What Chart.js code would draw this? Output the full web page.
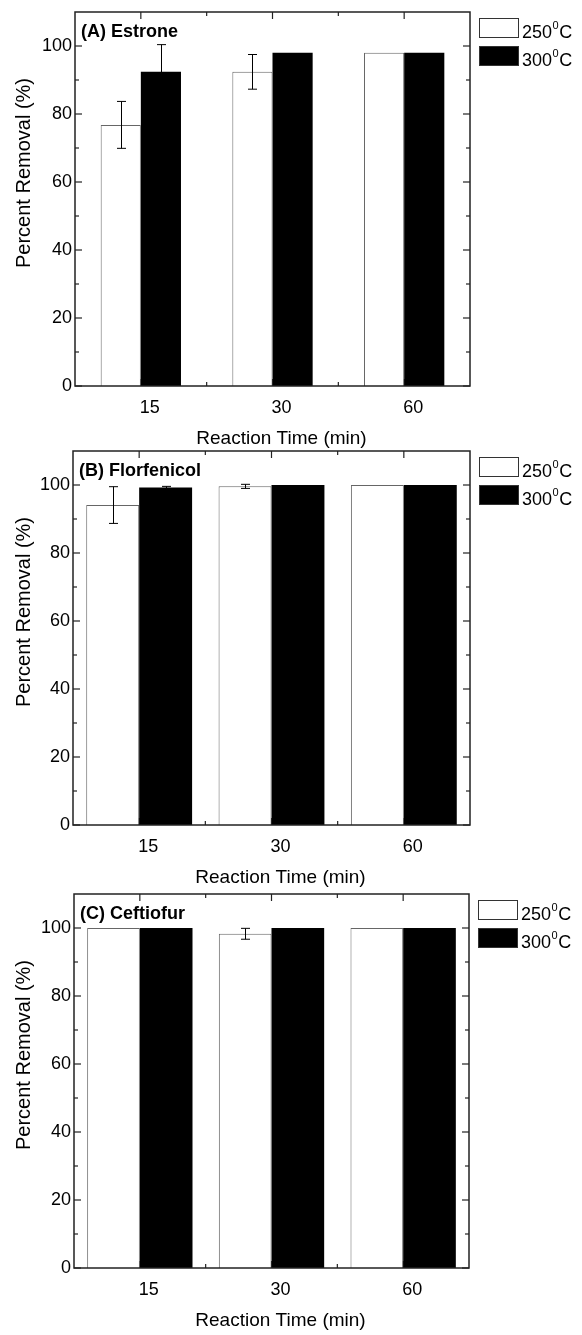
<!DOCTYPE html>
<html>
<head>
<meta charset="utf-8">
<script src="https://cdn.jsdelivr.net/npm/chart.js@4.4.1/dist/chart.umd.min.js"></script>
<style>
  body { margin: 0; background: #fff; }
  #wrap { position: relative; width: 582px; height: 1335px; }
  canvas { position: absolute; left: 0; }
</style>
</head>
<body>
<div id="wrap">
  <canvas id="chartA" width="582" height="450" style="top:0px"></canvas>
  <canvas id="chartB" width="582" height="450" style="top:440px"></canvas>
  <canvas id="chartC" width="582" height="455" style="top:880px"></canvas>
</div>
<script>
// categories and tick labels
const reactionTimes = ["15", "30", "60"];
const tempLabels = ["250", "300"];
const yTicks = [0, 20, 40, 60, 80, 100];
const yMinorTicks = [10, 30, 50, 70, 90];
const yMax = 110;

// (A) Estrone
const estrone250 = [76.8, 92.4, 98.0];
const estrone250Err = [6.9, 5.1, 0];
const estrone300 = [92.4, 98.0, 98.0];
const estrone300Err = [8.0, 0, 0];

// (B) Florfenicol
const florfenicol250 = [94.1, 99.6, 100];
const florfenicol250Err = [5.4, 0.6, 0];
const florfenicol300 = [99.3, 100, 100];
const florfenicol300Err = [0.3, 0, 0];

// (C) Ceftiofur
const ceftiofur250 = [100, 98.3, 100];
const ceftiofur250Err = [0, 1.6, 0];
const ceftiofur300 = [100, 100, 100];
const ceftiofur300Err = [0, 0, 0];

Chart.defaults.font.family = "'Liberation Sans', Arial, Helvetica, sans-serif";
Chart.defaults.color = "#000";

function line(ctx, x1, y1, x2, y2) {
    ctx.beginPath();
    ctx.moveTo(x1, y1);
    ctx.lineTo(x2, y2);
    ctx.stroke();
}

// frame, inward ticks, error bars, titles and legend in the Origin style
const panelPlugin = {
    id: "panel",
    beforeDatasetsDraw(chart) {
        const ctx = chart.ctx;
        const { left, right, top, bottom } = chart.chartArea;
        const x = chart.scales.x, y = chart.scales.y;
        ctx.save();
        ctx.strokeStyle = "#222";
        ctx.lineWidth = 1.2;
        yTicks.forEach(v => {
            const py = y.getPixelForValue(v);
            line(ctx, left, py, left + 7, py);
            line(ctx, right, py, right - 7, py);
        });
        yMinorTicks.forEach(v => {
            const py = y.getPixelForValue(v);
            line(ctx, left, py, left + 4, py);
            line(ctx, right, py, right - 4, py);
        });
        reactionTimes.forEach((c, i) => {
            const px = x.getPixelForValue(i);
            line(ctx, px, top, px, top + 7);
            line(ctx, px, bottom, px, bottom - 7);
            if (i > 0) {
                const pb = (x.getPixelForValue(i - 1) + px) / 2;
                line(ctx, pb, top, pb, top + 4);
                line(ctx, pb, bottom, pb, bottom - 4);
            }
        });
        ctx.restore();
    },
    afterDatasetsDraw(chart) {
        const ctx = chart.ctx;
        const { left, right, top, bottom } = chart.chartArea;
        const y = chart.scales.y;
        ctx.save();
        // error bars
        ctx.strokeStyle = "#000";
        ctx.lineWidth = 1;
        chart.data.datasets.forEach((ds, di) => {
            const meta = chart.getDatasetMeta(di);
            meta.data.forEach((bar, i) => {
                const e = ds.errors[i];
                if (!e) return;
                const v = ds.data[i];
                const yt = y.getPixelForValue(v + e);
                const yb = y.getPixelForValue(v - e);
                const bx = Math.round(bar.x) + 0.5;
                line(ctx, bx, yt, bx, yb);
                line(ctx, bx - 4.5, yt, bx + 4.5, yt);
                line(ctx, bx - 4.5, yb, bx + 4.5, yb);
            });
        });
        // frame
        ctx.strokeStyle = "#222";
        ctx.lineWidth = 1.5;
        ctx.strokeRect(left, top, right - left, bottom - top);
        ctx.restore();
    },
    afterDraw(chart, args, opts) {
        const ctx = chart.ctx;
        const { left, right, top, bottom } = chart.chartArea;
        ctx.save();
        ctx.fillStyle = "#000";

        // panel label
        ctx.font = "bold 18px 'Liberation Sans', Arial, sans-serif";
        ctx.textAlign = "left";
        ctx.textBaseline = "alphabetic";
        ctx.fillText(opts.label, left + 6, top + 25);

        // axis titles
        ctx.font = "19px 'Liberation Sans', Arial, sans-serif";
        ctx.textAlign = "center";
        ctx.textBaseline = "middle";
        ctx.fillText("Reaction Time (min)", (left + right) / 2 + 9, bottom + 53);
        ctx.save();
        ctx.translate(24, top + 161);
        ctx.rotate(-Math.PI / 2);
        ctx.font = "20px 'Liberation Sans', Arial, sans-serif";
        ctx.fillText("Percent Removal (%)", 0, 0);
        ctx.restore();

        // legend
        const lx = right + 9;
        ctx.textAlign = "left";
        ctx.textBaseline = "alphabetic";
        chart.data.datasets.forEach((ds, di) => {
            const by = top + 6 + di * 28;
            ctx.fillStyle = ds.backgroundColor;
            ctx.fillRect(lx, by, 40, 20);
            ctx.strokeStyle = "#333";
            ctx.lineWidth = 1;
            ctx.strokeRect(lx + 0.5, by + 0.5, 39, 19);
            ctx.fillStyle = "#000";
            const base = by + 20;
            let tx = lx + 43;
            ctx.font = "18px 'Liberation Sans', Arial, sans-serif";
            ctx.fillText(tempLabels[di], tx, base);
            tx += ctx.measureText(tempLabels[di]).width + 0.5;
            ctx.font = "11px 'Liberation Sans', Arial, sans-serif";
            ctx.fillText("0", tx, base - 9);
            tx += ctx.measureText("0").width + 0.5;
            ctx.font = "18px 'Liberation Sans', Arial, sans-serif";
            ctx.fillText("C", tx, base);
        });
        ctx.restore();
    }
};

function makePanel(id, label, d250, e250, d300, e300, area) {
    new Chart(document.getElementById(id), {
        type: "bar",
        data: {
            labels: reactionTimes,
            datasets: [
                {
                    label: tempLabels[0] + "\u2070C",
                    data: d250,
                    errors: e250,
                    backgroundColor: "#fff",
                    borderColor: "#666",
                    borderWidth: 1,
                    categoryPercentage: area.cat,
                    barPercentage: 1,
                },
                {
                    label: tempLabels[1] + "\u2070C",
                    data: d300,
                    errors: e300,
                    backgroundColor: "#000",
                    borderWidth: 0,
                    categoryPercentage: area.cat,
                    barPercentage: 1,
                },
            ],
        },
        options: {
            responsive: false,
            animation: false,
            layout: { padding: { top: area.top, right: 582 - area.right, left: 0, bottom: 0 } },
            plugins: {
                legend: { display: false },
                tooltip: { enabled: false },
                panel: { label: label },
            },
            scales: {
                x: {
                    grid: { display: false, drawTicks: false },
                    border: { display: false },
                    ticks: { labelOffset: 9, padding: 11, font: { size: 18 }, color: "#000" },
                    afterFit: s => {
                        s.height = area.h - area.bottom;
                        s.paddingLeft = 0;
                        s.paddingRight = 0;
                    },
                },
                y: {
                    min: 0,
                    max: yMax,
                    grid: { display: false, drawTicks: false },
                    border: { display: false },
                    afterBuildTicks: s => {
                        s.ticks = yTicks.map(v => ({ value: v }));
                    },
                    ticks: { padding: 3, font: { size: 18 }, color: "#000" },
                    afterFit: s => {
                        s.width = area.left;
                        s.paddingTop = 0;
                        s.paddingBottom = 0;
                    },
                },
            },
        },
        plugins: [panelPlugin],
    });
}

makePanel("chartA", "(A) Estrone", estrone250, estrone250Err, estrone300, estrone300Err,
    { left: 75, right: 470, top: 12, bottom: 386, h: 450, cat: 0.61 });
makePanel("chartB", "(B) Florfenicol", florfenicol250, florfenicol250Err, florfenicol300, florfenicol300Err,
    { left: 73, right: 470, top: 11, bottom: 385, h: 450, cat: 0.8 });
makePanel("chartC", "(C) Ceftiofur", ceftiofur250, ceftiofur250Err, ceftiofur300, ceftiofur300Err,
    { left: 74, right: 469, top: 14, bottom: 388, h: 455, cat: 0.8 });
</script>
</body>
</html>
